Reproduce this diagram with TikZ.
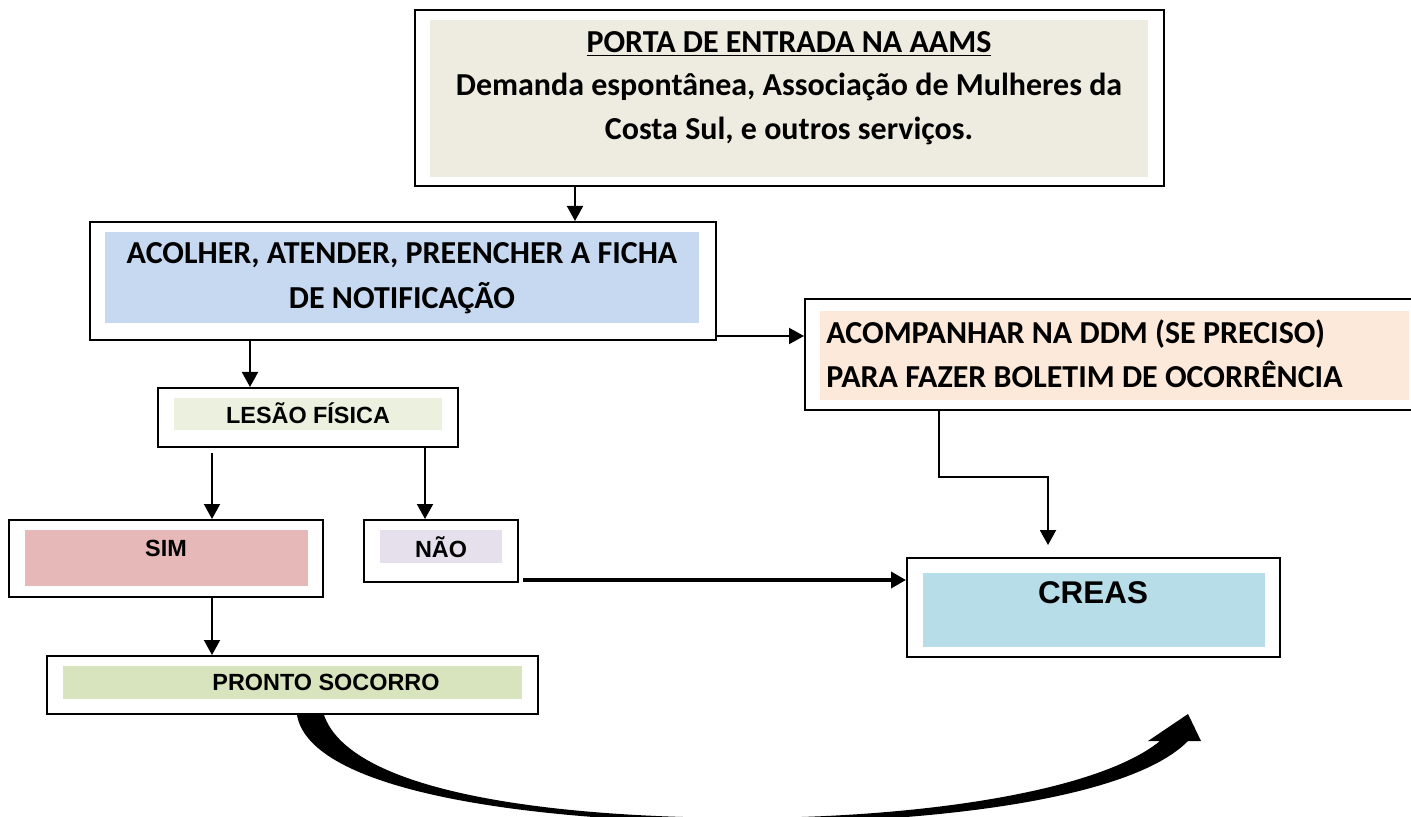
\documentclass[tikz,border=0pt]{standalone}
\usepackage{fontspec}
\setmainfont{Carlito}
\newfontfamily\arialf{Liberation Sans}
\usetikzlibrary{arrows.meta,calc,fit}
\definecolor{cbeige}{HTML}{EEECE1}
\definecolor{cblue}{HTML}{C6D9F1}
\definecolor{cpeach}{HTML}{FDE9D9}
\definecolor{clgreen}{HTML}{EBF1DE}
\definecolor{cpink}{HTML}{E6B9B8}
\definecolor{clav}{HTML}{E5E0EC}
\definecolor{ccyan}{HTML}{B7DDE8}
\definecolor{cgreen}{HTML}{D7E4BD}
\begin{document}
\begin{tikzpicture}[x=0.5pt,y=-0.5pt,
  outer/.style={draw=black,line width=1pt,fill=white,inner sep=0pt},
  band/.style={inner sep=0pt,draw=none},
  cal/.style={font=\bfseries\fontsize{16}{22.5}\selectfont,inner sep=0pt},
  ari/.style={font=\arialf\bfseries\fontsize{11.7}{14}\selectfont,inner sep=0pt},
  arr/.style={line width=1pt,-{Triangle[length=7.5pt,width=8pt]}},
  thickarr/.style={line width=1.75pt,-{Triangle[length=7.5pt,width=8pt]}}]
\useasboundingbox (0,0) rectangle (1411,817);
% boxes
\node[outer,fit={(415,10) (1164,186)}] (b1) {};
\node[band,fill=cbeige,fit={(430,20) (1148,177)}] (b1f) {};
\node[outer,fit={(90,222) (716,340)}] (b2) {};
\node[band,fill=cblue,fit={(105,232) (699,323)}] (b2f) {};
\node[outer,fit={(805,299) (1416,410)}] (b3) {};
\node[band,fill=cpeach,fit={(820,311) (1409,400)}] (b3f) {};
\node[outer,fit={(158,388) (458,447)}] (les) {};
\node[band,fill=clgreen,fit={(174,398) (442,430)}] (lesf) {};
\node[outer,fit={(9,520) (323,597)}] (sim) {};
\node[band,fill=cpink,fit={(25,530) (308,586)}] (simf) {};
\node[outer,fit={(364,520) (518,582)}] (nao) {};
\node[band,fill=clav,fit={(380,530) (502,563)}] (naof) {};
\node[outer,fit={(907,558) (1280,657)}] (cr) {};
\node[band,fill=ccyan,fit={(923,573) (1265,647)}] (crf) {};
\node[outer,fit={(47,656) (538,714)}] (ps) {};
\node[band,fill=cgreen,fit={(63,666) (522,699)}] (psf) {};
% texts
\node[cal,font=\bfseries\fontsize{16}{21.75}\selectfont,align=center] (t1) at (789,88)
  {\underline{PORTA DE ENTRADA NA AAMS}\\Demanda espontânea, Associação de Mulheres da\\Costa Sul, e outros serviços.};
\node[cal,align=center] (t2) at (402,278) {ACOLHER, ATENDER, PREENCHER A FICHA\\DE NOTIFICAÇÃO};
\node[cal,align=left,anchor=west,font=\bfseries\fontsize{16}{22}\selectfont] (t3) at (826,354) {ACOMPANHAR NA DDM (SE PRECISO)\\PARA FAZER BOLETIM DE OCORRÊNCIA};
\node[ari] (t4) at (308,413) {LESÃO FÍSICA};
\node[ari] (t5) at (166,548) {SIM};
\node[ari] (t6) at (441,547) {NÃO};
\node[ari,font=\arialf\bfseries\fontsize{15.7}{18}\selectfont] (t7) at (1093,593) {CREAS};
\node[ari] (t8) at (326,682) {PRONTO SOCORRO};
% connector guide coordinates
\coordinate (c1) at (575,0);
\coordinate (c2) at (250,0);
\coordinate (c3) at (0,336);
\coordinate (c4) at (212,0);
\coordinate (c5) at (425,0);
\coordinate (c6) at (0,580);
\coordinate (c7) at (939,477);
\coordinate (c9) at (1048,0);
% connectors
\draw[arr] (b1.south -| c1) -- (b2.north -| c1);
\draw[arr] (b2.south -| c2) -- (les.north -| c2);
\draw[arr] (b2.east |- c3) -- (b3.west |- c3);
\draw[arr] ([yshift=-2.5pt]les.south -| c4) -- (sim.north -| c4);
\draw[arr] (les.south -| c5) -- (nao.north -| c5);
\draw[arr] (sim.south -| c4) -- (ps.north -| c4);
\draw[thickarr] ([xshift=2pt]nao.east |- c6) -- (cr.west |- c6);
\draw[arr] (b3.south -| c7) -- (c7) -| ([yshift=6pt]cr.north -| c9);
% curved block arrow
\fill[black] (297,715) .. controls (310,790) and (520,822) .. (750,823)
  .. controls (930,823) and (1130,800) .. (1188,741)
  -- (1201,741) -- (1188,714) -- (1148,741) -- (1160,741)
  .. controls (1100,790) and (930,817) .. (750,818)
  .. controls (540,818) and (350,790) .. (324,715) -- cycle;
\end{tikzpicture}
\end{document}
